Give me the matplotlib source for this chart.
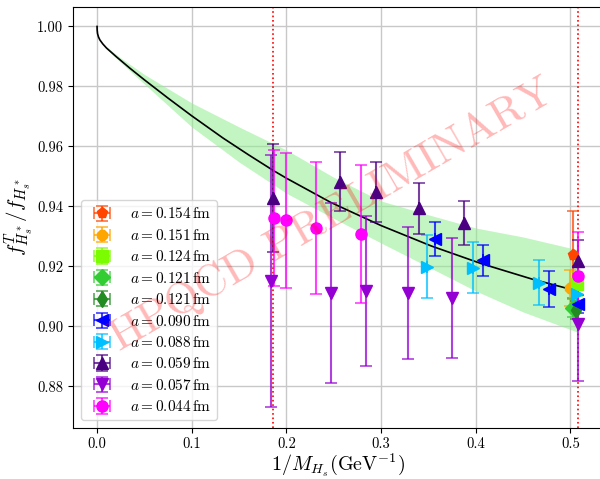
"""Tensor-to-vector decay constant ratio vs inverse heavy-strange meson mass."""
import matplotlib

matplotlib.use("Agg")
import matplotlib.pyplot as plt
import numpy as np
from matplotlib.colors import to_rgba

plt.rcParams.update({
    "font.family": "serif",
    "font.serif": ["cmr10"],
    "mathtext.fontset": "cm",
    "axes.formatter.use_mathtext": True,
})

# 1/M_Bs and 1/M_Ds markers
phys_lines = [0.1863, 0.5081]

# continuum fit curve
fit_x = [0.0, 0.0001, 0.0005, 0.0015, 0.003, 0.006, 0.01, 0.02, 0.035, 0.05,
         0.075, 0.1, 0.133, 0.16, 0.186, 0.2, 0.247, 0.3, 0.353, 0.406,
         0.459, 0.508]
fit_y = [1.000, 0.9988, 0.9976, 0.9965, 0.9955, 0.9942, 0.9928, 0.9900,
         0.9860, 0.9822, 0.9761, 0.9702, 0.9628, 0.9572, 0.9520, 0.9494,
         0.9413, 0.9336, 0.9268, 0.9209, 0.9158, 0.9117]

# fit error band
band_x = [0.01, 0.025, 0.05, 0.1, 0.15, 0.2, 0.25, 0.3, 0.35, 0.4, 0.45, 0.508]
band_hi = [0.9932, 0.9895, 0.9840, 0.9745, 0.9665, 0.9588, 0.9497, 0.9418,
           0.9372, 0.9328, 0.9298, 0.9255]
band_lo = [0.9925, 0.9880, 0.9808, 0.9665, 0.9548, 0.9444, 0.9360, 0.9278,
           0.9198, 0.9118, 0.9048, 0.8980]

labels = ["0.154", "0.151", "0.124", "0.121", "0.121",
          "0.090", "0.088", "0.059", "0.057", "0.044"]
colors = ["orangered", "orange", "lawngreen", "limegreen", "forestgreen",
          "blue", "deepskyblue", "indigo", "darkviolet", "magenta"]
markers = ["p", "8", "s", "D", "d", "<", ">", "^", "v", "o"]

x_154 = [0.5022]
y_154 = [0.9239]
e_154 = [0.0144]

x_151 = [0.4994]
y_151 = [0.9128]
e_151 = [0.0060]

x_124 = [0.5065]
y_124 = [0.9142]
e_124 = [0.0040]

x_121a = [0.5030]
y_121a = [0.9061]
e_121a = [0.0030]

x_121b = [0.5055]
y_121b = [0.9056]
e_121b = [0.0030]

x_090 = [0.3573, 0.4075, 0.4771, 0.5080]
y_090 = [0.9291, 0.9220, 0.9126, 0.9076]
e_090 = [0.0056, 0.0052, 0.0060, 0.0030]

x_088 = [0.3490, 0.3976, 0.4665, 0.5065]
y_088 = [0.9198, 0.9195, 0.9145, 0.9109]
e_088 = [0.0105, 0.0085, 0.0075, 0.0040]

x_059 = [0.1863, 0.2562, 0.2944, 0.3396, 0.3874, 0.5080]
y_059 = [0.9428, 0.9483, 0.9448, 0.9394, 0.9345, 0.9217]
e_059 = [0.0180, 0.0100, 0.0100, 0.0085, 0.0074, 0.0072]

x_057 = [0.1836, 0.2468, 0.2838, 0.3280, 0.3746, 0.5080]
y_057 = [0.9150, 0.9111, 0.9117, 0.9111, 0.9095, 0.9009]
e_057 = [0.0420, 0.0300, 0.0250, 0.0220, 0.0200, 0.0192]

x_044 = [0.1866, 0.2000, 0.2315, 0.2785, 0.5078]
y_044 = [0.9361, 0.9353, 0.9328, 0.9308, 0.9169]
e_044 = [0.0227, 0.0224, 0.0220, 0.0230, 0.0144]

series = [
    (x_154, y_154, e_154), (x_151, y_151, e_151), (x_124, y_124, e_124),
    (x_121a, y_121a, e_121a), (x_121b, y_121b, e_121b), (x_090, y_090, e_090),
    (x_088, y_088, e_088), (x_059, y_059, e_059), (x_057, y_057, e_057),
    (x_044, y_044, e_044),
]


def main():
    fig = plt.figure(figsize=(6.0, 4.79), dpi=100)
    ax = fig.add_axes([0.1217, 0.1065, 0.8817, 0.8783])

    ax.grid(True, color="#c8c8c8", linewidth=1.0, zorder=0)
    ax.set_axisbelow(True)

    ax.fill_between(band_x, band_lo, band_hi, color="#90ee90", alpha=0.55,
                    linewidth=0, zorder=1)
    ax.plot(fit_x, fit_y, color="black", linewidth=1.2, zorder=2)

    for xv in phys_lines:
        ax.axvline(xv, color="red", linestyle=":", linewidth=1.2, zorder=2)

    for (xs, ys, es), lab, c, m in zip(series, labels, colors, markers):
        ax.errorbar(xs, ys, yerr=es, xerr=np.zeros(len(xs)), fmt=m, color=c,
                    ecolor=to_rgba(c, 0.75), markersize=8, capsize=4,
                    elinewidth=1.5, capthick=1.2,
                    label=r"$a = %s\,\mathrm{fm}$" % lab, zorder=3)

    ax.set_xlim(-0.0254, 0.5334)
    ax.set_ylim(0.8661, 1.0064)
    ax.set_xticks([0.0, 0.1, 0.2, 0.3, 0.4, 0.5])
    ax.set_yticks([0.88, 0.90, 0.92, 0.94, 0.96, 0.98, 1.00])
    ax.set_xticklabels(["0.0", "0.1", "0.2", "0.3", "0.4", "0.5"])
    ax.set_yticklabels(["0.88", "0.90", "0.92", "0.94", "0.96", "0.98", "1.00"])
    ax.tick_params(labelsize=10.5)

    ax.set_xlabel(r"$1/M_{H_s}(\mathrm{GeV}^{-1})$", fontsize=14.5, labelpad=0)
    ax.set_ylabel(r"$f^T_{H_s^*}/f_{H_s^*}$", fontsize=15, labelpad=0.5)

    ax.legend(loc="lower left", fontsize=11, labelspacing=0.42)

    ax.text(0.49, 0.505, "HPQCD PRELIMINARY", transform=ax.transAxes,
            rotation=30, ha="center", va="center", fontsize=32,
            color="red", alpha=0.28, zorder=10)

    fig.savefig("out.png", dpi=100)
    plt.close(fig)


if __name__ == "__main__":
    main()
